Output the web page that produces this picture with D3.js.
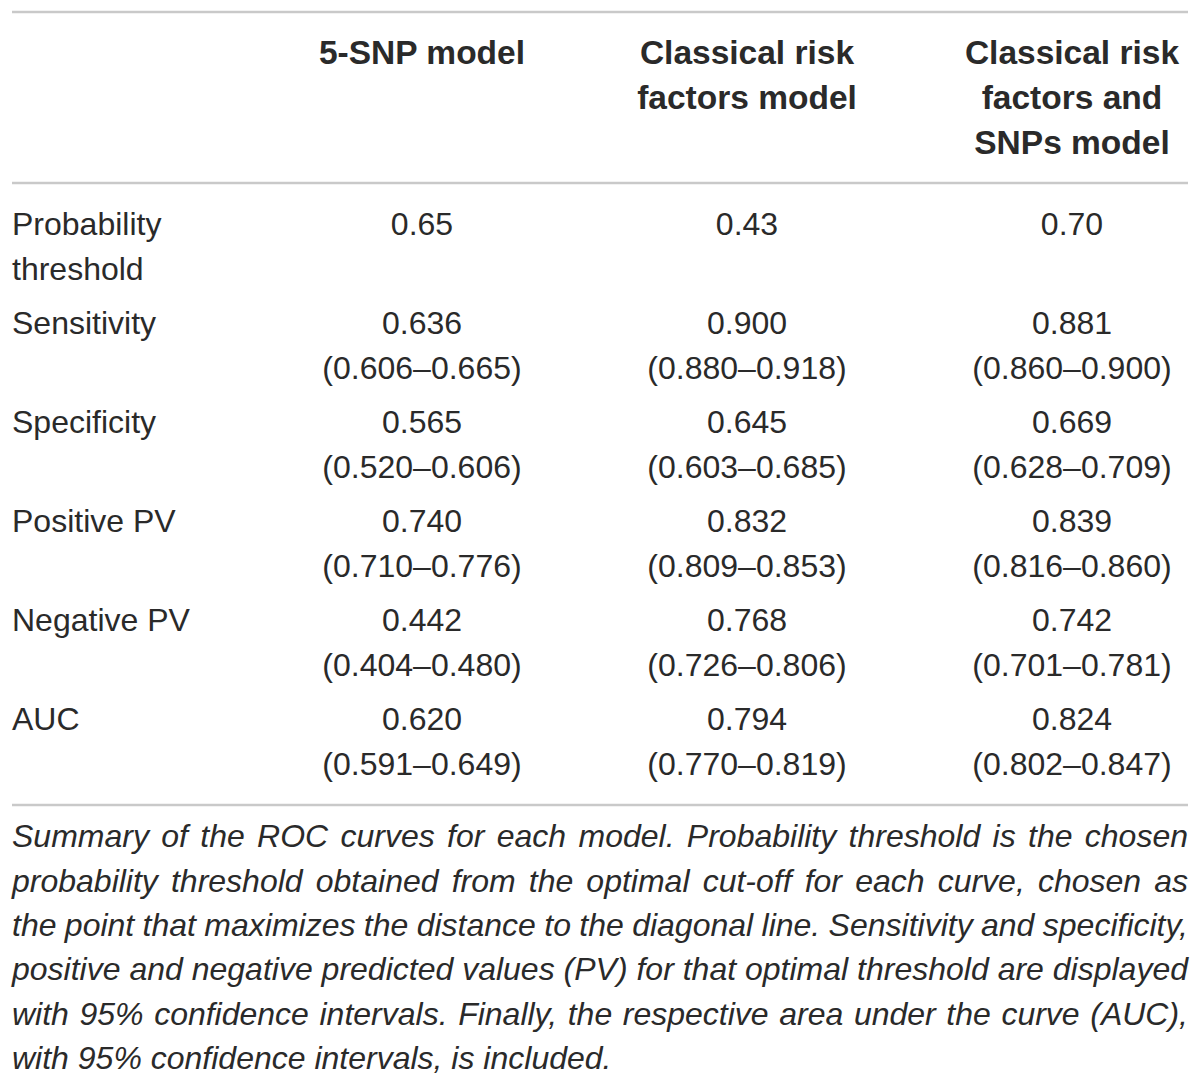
<!DOCTYPE html>
<html>
<head>
<meta charset="utf-8">
<script src="https://cdn.jsdelivr.net/npm/d3@7"></script>
<style>
  html, body { margin: 0; padding: 0; background: #fff; }
  svg { display: block; }
</style>
</head>
<body>
<svg id="chart" width="1200" height="1078"></svg>
<script>
// table content
const columnHeads = [
  ["5-SNP model"],
  ["Classical risk", "factors model"],
  ["Classical risk", "factors and", "SNPs model"]
];
const rowLabels = [
  ["Probability", "threshold"],
  ["Sensitivity"],
  ["Specificity"],
  ["Positive PV"],
  ["Negative PV"],
  ["AUC"]
];
const snpValues = ["0.65", "0.636", "0.565", "0.740", "0.442", "0.620"];
const snpCI = ["", "(0.606–0.665)", "(0.520–0.606)", "(0.710–0.776)", "(0.404–0.480)", "(0.591–0.649)"];
const classicalValues = ["0.43", "0.900", "0.645", "0.832", "0.768", "0.794"];
const classicalCI = ["", "(0.880–0.918)", "(0.603–0.685)", "(0.809–0.853)", "(0.726–0.806)", "(0.770–0.819)"];
const combinedValues = ["0.70", "0.881", "0.669", "0.839", "0.742", "0.824"];
const combinedCI = ["", "(0.860–0.900)", "(0.628–0.709)", "(0.816–0.860)", "(0.701–0.781)", "(0.802–0.847)"];
const captionLines = [
  "Summary of the ROC curves for each model. Probability threshold is the chosen",
  "probability threshold obtained from the optimal cut-off for each curve, chosen as",
  "the point that maximizes the distance to the diagonal line. Sensitivity and specificity,",
  "positive and negative predicted values (PV) for that optimal threshold are displayed",
  "with 95% confidence intervals. Finally, the respective area under the curve (AUC),",
  "with 95% confidence intervals, is included."
];

const left = 12, right = 1188;
const textColor = "#2a2a2a";
const ruleColor = "#c9c9c9";
const font = "'Liberation Sans', Arial, Helvetica, sans-serif";
const lineGap = 45;

const svg = d3.select("#chart");

const colIdx = d3.range(columnHeads.length);
const x = d3.scalePoint().domain(colIdx).range([422, 1072]);
const y = d3.scaleLinear().domain([0, rowLabels.length - 1]).range([224, 719]);

// rules
const rules = [12, 183, 805];
svg.append("g")
  .selectAll("line")
  .data(rules)
  .join("line")
  .attr("x1", left)
  .attr("x2", right)
  .attr("y1", (d) => d)
  .attr("y2", (d) => d)
  .attr("stroke", ruleColor)
  .attr("stroke-width", 2.5);

// header
const head = svg.append("g")
  .attr("font-family", font)
  .attr("font-weight", "bold")
  .attr("font-size", 33.5)
  .attr("fill", textColor)
  .attr("text-anchor", "middle");

head.selectAll("text")
  .data(columnHeads)
  .join("text")
  .attr("x", (d, i) => x(i))
  .selectAll("tspan")
  .data((d) => d)
  .join("tspan")
  .attr("x", function () { return d3.select(this.parentNode).attr("x"); })
  .attr("y", (d, j) => 52 + j * lineGap)
  .attr("dy", "0.35em")
  .text((d) => d);

// body
const body = svg.append("g")
  .attr("font-family", font)
  .attr("font-size", 32)
  .attr("fill", textColor);

body.append("g")
  .selectAll("text")
  .data(rowLabels)
  .join("text")
  .selectAll("tspan")
  .data((d, i) => d.map((t) => ({ t, i })))
  .join("tspan")
  .attr("x", left)
  .attr("y", (d, j) => y(d.i) + j * lineGap)
  .attr("dy", "0.35em")
  .text((d) => d.t);

const cols = [
  { v: snpValues, ci: snpCI },
  { v: classicalValues, ci: classicalCI },
  { v: combinedValues, ci: combinedCI }
];

cols.forEach((c, ci) => {
  const cells = c.v.map((v, i) => ({ v, ci: c.ci[i], i }));
  const g = body.append("g").attr("text-anchor", "middle");
  g.selectAll("text.val")
    .data(cells)
    .join("text")
    .attr("class", "val")
    .attr("x", x(ci))
    .attr("y", (d) => y(d.i))
    .attr("dy", "0.35em")
    .text((d) => d.v);
  g.selectAll("text.ci")
    .data(cells.filter((d) => d.ci))
    .join("text")
    .attr("class", "ci")
    .attr("x", x(ci))
    .attr("y", (d) => y(d.i) + lineGap)
    .attr("dy", "0.35em")
    .text((d) => d.ci);
});

// caption, justified
const capSize = 32;
const cap = svg.append("g")
  .attr("font-family", font)
  .attr("font-style", "italic")
  .attr("font-size", capSize)
  .attr("fill", textColor);

captionLines.forEach((line, li) => {
  const words = line.split(" ");
  const t = cap.append("text")
    .attr("y", 836 + li * 44.4)
    .attr("dy", "0.35em");
  const spans = words.map((w) => t.append("tspan").text(w));
  const widths = spans.map((s) => s.node().getComputedTextLength());
  const total = d3.sum(widths);
  const last = li === captionLines.length - 1;
  const gap = last ? capSize * 0.278 : (right - left - total) / (words.length - 1);
  let cx = left;
  spans.forEach((s, k) => {
    s.attr("x", cx);
    cx += widths[k] + gap;
  });
});
</script>
</body>
</html>
